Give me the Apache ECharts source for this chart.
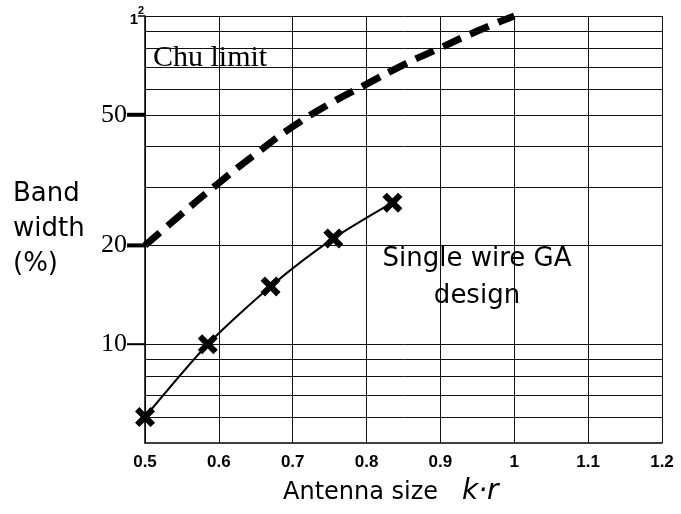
<!DOCTYPE html>
<html>
<head>
<meta charset="utf-8">
<script src="https://cdn.jsdelivr.net/npm/echarts@6/dist/echarts.min.js"></script>
<style>
  html, body { margin: 0; padding: 0; background: #fff; }
  #chart { width: 681px; height: 514px; }
</style>
</head>
<body>
<div id="chart"></div>
<script>
// Chu limit (dashed) and the single wire GA design points
const chuKr = [0.5, 0.55, 0.6, 0.65, 0.7, 0.75, 0.8, 0.85, 0.9, 0.95, 1.0];
const chuBw = [20, 25, 31, 38, 46, 54, 62, 71, 80, 90, 100];
const gaKr = [0.5, 0.585, 0.67, 0.755, 0.835];
const gaBw = [6, 10, 15, 21, 27];

// horizontal grid lines on the log axis
const gridBw = [6, 7, 8, 9, 10, 20, 30, 40, 50, 60, 70, 80, 90, 100];
// labelled ticks on the y axis (top one is "1" with a raised "2")
const yTickVals = [100, 50, 20, 10];
const yTickText = ['1', '50', '20', '10'];
const topSup = '2';

const crossPath = 'path://M0,3.5 L3.5,0 L8,4.5 L12.5,0 L16,3.5 L11.5,8 L16,12.5 L12.5,16 L8,11.5 L3.5,16 L0,12.5 L4.5,8 Z';

const chart = echarts.init(document.getElementById('chart'));

chart.setOption({
    animation: false,
    backgroundColor: '#fff',
    grid: {left: 145, right: 19, top: 16, bottom: 71},
    xAxis: {
        type: 'value',
        min: 0.5,
        max: 1.2,
        interval: 0.1,
        axisLine: {show: true, lineStyle: {color: '#000', width: 1.5}},
        axisTick: {show: false},
        axisLabel: {
            color: '#000',
            fontFamily: 'Liberation Sans',
            fontWeight: 'bold',
            fontSize: 17,
            margin: 11,
            formatter: v => String(Math.round(v * 10) / 10)
        },
        splitLine: {show: true, lineStyle: {color: '#111', width: 1}}
    },
    yAxis: {
        type: 'log',
        logBase: 10,
        min: 5,
        max: 100,
        axisLine: {show: true, onZero: false, lineStyle: {color: '#000', width: 1.5}},
        axisTick: {show: false},
        axisLabel: {show: false},
        splitLine: {show: false}
    },
    series: [
        {
            type: 'line',
            data: [],
            silent: true,
            markLine: {
                silent: true,
                symbol: 'none',
                label: {show: false},
                lineStyle: {color: '#111', width: 1, type: 'solid'},
                data: gridBw.map(v => ({yAxis: v}))
            }
        },
        {
            name: 'Chu limit',
            type: 'line',
            smooth: true,
            showSymbol: false,
            lineStyle: {color: '#000', width: 7, type: [20, 10], cap: 'butt'},
            data: chuKr.map((k, i) => [k, chuBw[i]])
        },
        {
            name: 'Single wire GA design',
            type: 'line',
            smooth: 0.25,
            symbol: crossPath,
            symbolSize: 20,
            itemStyle: {color: '#000'},
            lineStyle: {color: '#000', width: 2},
            data: gaKr.map((k, i) => [k, gaBw[i]])
        }
    ]
});

// y tick labels and the short heavy ticks, placed with the axis scale
const x0 = chart.convertToPixel({xAxisIndex: 0}, 0.5);
const yGraphics = [];
yTickVals.forEach((v, i) => {
    const py = chart.convertToPixel({yAxisIndex: 0}, v);
    if (i === 0) {
        yGraphics.push({
            type: 'text', x: x0 - 7, y: py + 4,
            style: {text: yTickText[i], font: 'bold 15px "Liberation Sans"', fill: '#000',
                textAlign: 'right', textVerticalAlign: 'middle'}
        });
        yGraphics.push({
            type: 'text', x: x0 - 7, y: py - 5,
            style: {text: topSup, font: 'bold 11px "Liberation Sans"', fill: '#000',
                textAlign: 'left', textVerticalAlign: 'middle'}
        });
        yGraphics.push({
            type: 'line', shape: {x1: x0 - 7, y1: py, x2: x0, y2: py},
            style: {stroke: '#000', lineWidth: 1.5}
        });
    } else {
        yGraphics.push({
            type: 'text', x: x0 - 18, y: py,
            style: {text: yTickText[i], font: '26px "Liberation Serif"', fill: '#000',
                textAlign: 'right', textVerticalAlign: 'middle'}
        });
        yGraphics.push({
            type: 'line', shape: {x1: x0 - 18, y1: py, x2: x0, y2: py},
            style: {stroke: '#000', lineWidth: i === 3 ? 2 : 4}
        });
    }
});

chart.setOption({
    graphic: yGraphics.concat([
        {
            type: 'text', left: 153, top: 43,
            style: {text: 'Chu limit', font: '30px "Liberation Serif"', fill: '#000'}
        },
        {
            type: 'text', x: 477, y: 278,
            style: {text: 'Single wire GA\ndesign', font: '26px "DejaVu Sans"', fill: '#000',
                textAlign: 'center', textVerticalAlign: 'middle', lineHeight: 37}
        },
        {
            type: 'text', left: 13, top: 177,
            style: {text: 'Band\nwidth\n(%)', font: '26px "DejaVu Sans"', fill: '#000', lineHeight: 35}
        },
        {
            type: 'text', x: 283, y: 493,
            style: {text: 'Antenna size', font: '24px "DejaVu Sans"', fill: '#000',
                textVerticalAlign: 'middle'}
        },
        {
            type: 'text', x: 462, y: 492,
            style: {text: 'k·r', font: 'italic 28px "DejaVu Sans"', fill: '#000',
                textVerticalAlign: 'middle'}
        }
    ])
});
</script>
</body>
</html>
